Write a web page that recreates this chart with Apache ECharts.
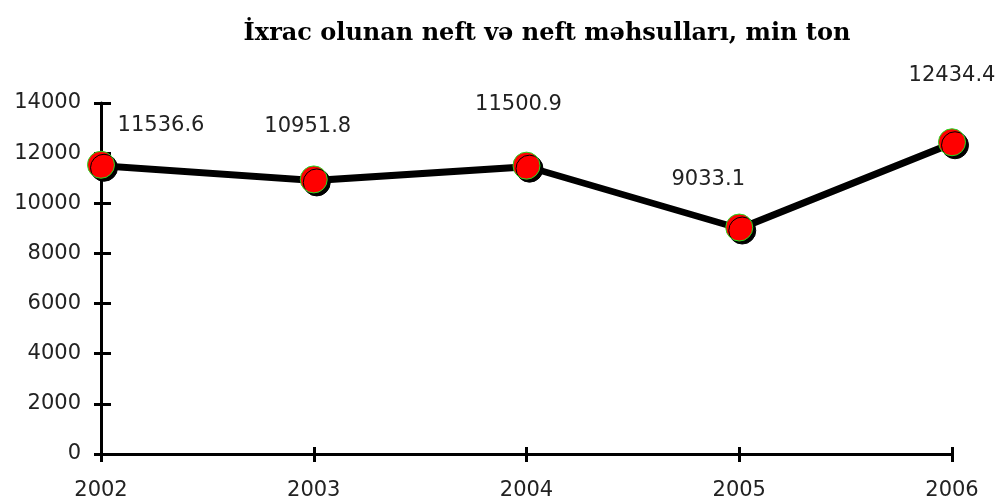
<!DOCTYPE html>
<html>
<head>
<meta charset="utf-8">
<script src="https://cdn.jsdelivr.net/npm/echarts@6/dist/echarts.min.js"></script>
<style>
html,body{margin:0;padding:0;background:#fff;}
#myChart{width:1005px;height:501px;}
</style>
</head>
<body>
<div id="myChart"></div>
<script>
const years = ['2002', '2003', '2004', '2005', '2006'];
const values = [11536.6, 10951.8, 11500.9, 9033.1, 12434.4];
// label offsets from each marker centre, as Excel placed them
const labelDx = [60, -6, -8, -31, 0];
const labelDy = [-39, -53, -61, -48, -67];

const myChart = echarts.init(document.getElementById('myChart'));

const seriesData = values.map((v, i) => ({
    value: v,
    label: { offset: [labelDx[i], labelDy[i]] }
}));

const textFont = { color: '#222', fontFamily: 'DejaVu Sans', fontSize: 21 };
const axisLine = { show: true, lineStyle: { color: '#000', width: 3 } };
const tickStyle = { color: '#000', width: 3 };
// grid box
const gl = 101, gr = 53, gt = 103, gb = 46;
const gw = 1005 - gl - gr, gh = 501 - gt - gb;

const option = {
    animation: false,
    backgroundColor: '#fff',
    title: {
        text: 'İxrac olunan neft və neft məhsulları, min ton',
        left: 542,
        textAlign: 'center',
        top: 17,
        textStyle: { fontFamily: 'DejaVu Serif', fontWeight: 'bold', fontSize: 24, color: '#000' }
    },
    grid: { left: gl, right: gr, top: gt, bottom: gb },
    xAxis: [{
        type: 'category',
        data: years,
        boundaryGap: false,
        axisLine: axisLine,
        axisTick: { show: true, length: 8, lineStyle: tickStyle },
        axisLabel: Object.assign({ margin: 26 }, textFont),
        splitLine: { show: false }
    }, {
        // second axis only to draw the upper half of the cross ticks
        type: 'category',
        data: years,
        boundaryGap: false,
        position: 'top',
        offset: -gh,
        axisLine: { show: false },
        axisTick: { show: true, length: 8, lineStyle: tickStyle },
        axisLabel: { show: false },
        splitLine: { show: false }
    }],
    yAxis: [{
        type: 'value',
        min: 0,
        max: 14000,
        interval: 2000,
        axisLine: axisLine,
        axisTick: { show: true, length: 7, lineStyle: tickStyle },
        axisLabel: Object.assign({ margin: 20, formatter: v => String(v) }, textFont),
        splitLine: { show: false }
    }, {
        type: 'value',
        min: 0,
        max: 14000,
        interval: 2000,
        position: 'right',
        offset: -gw,
        axisLine: { show: false },
        axisTick: { show: true, length: 10, lineStyle: tickStyle },
        axisLabel: { show: false },
        splitLine: { show: false }
    }],
    series: [{
        type: 'line',
        data: seriesData,
        symbol: 'circle',
        symbolSize: 27,
        lineStyle: {
            color: '#000',
            width: 5,
            shadowColor: '#000',
            shadowOffsetX: 1,
            shadowOffsetY: 2,
            shadowBlur: 0
        },
        itemStyle: {
            color: '#ff0000',
            borderColor: '#22dd22',
            borderWidth: 1,
            shadowColor: '#000',
            shadowOffsetX: 3,
            shadowOffsetY: 3,
            shadowBlur: 0
        },
        label: Object.assign({
            show: true,
            position: 'inside',
            formatter: p => p.value.toFixed(1)
        }, textFont),
        z: 3
    }, {
        // empty series so the helper axes get laid out
        type: 'line',
        xAxisIndex: 1,
        yAxisIndex: 1,
        data: [],
        silent: true
    }]
};

myChart.setOption(option);
window.addEventListener('resize', myChart.resize);
</script>
</body>
</html>
